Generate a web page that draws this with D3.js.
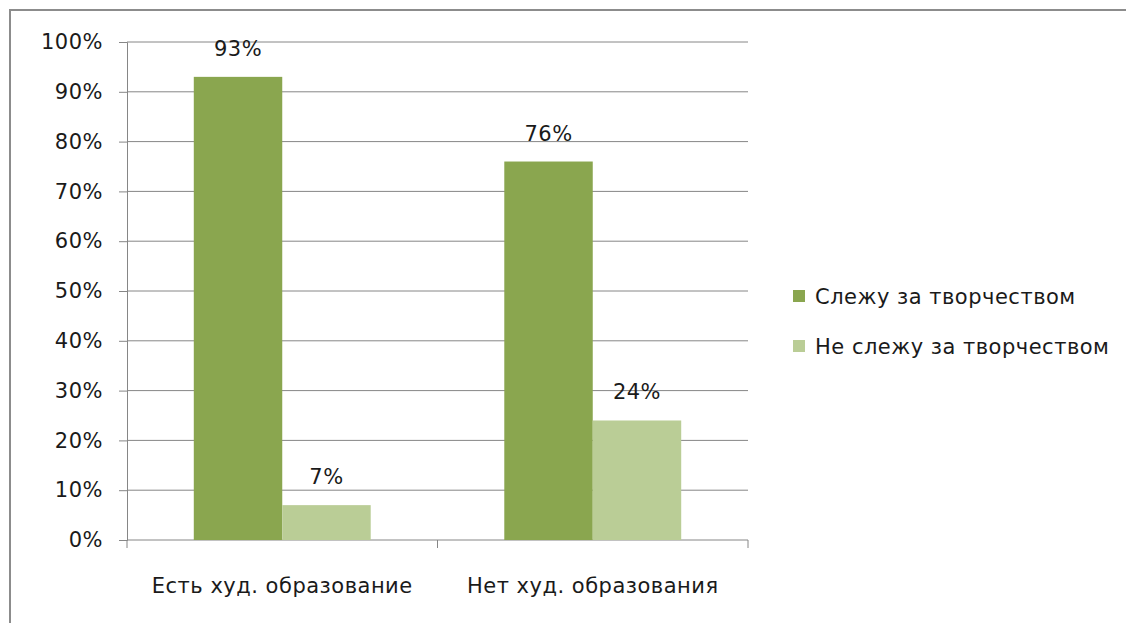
<!DOCTYPE html>
<html>
<head>
<meta charset="utf-8">
<script src="https://cdn.jsdelivr.net/npm/d3@7"></script>
<style>
  body { margin: 0; background: #fff; overflow: hidden; }
  svg { display: block; }
  text { font-family: "DejaVu Sans", sans-serif; fill: #1a1a1a; letter-spacing: 0.5px; }
</style>
</head>
<body>
<div id="chart"></div>
<script>
// chart data
const categories = ["Есть худ. образование", "Нет худ. образования"];
const seriesNames = ["Слежу за творчеством", "Не слежу за творчеством"];
const follow = [93, 76];
const notFollow = [7, 24];
const yTicks = [0, 10, 20, 30, 40, 50, 60, 70, 80, 90, 100];
const colors = ["#8aa64f", "#bacd96"];

const width = 1126;
const height = 623;
const margin = {left: 127, right: 378, top: 42, bottom: 83};
const fontSize = "21px";

const svg = d3.select("#chart")
  .append("svg")
  .attr("width", width)
  .attr("height", height);

// outer frame (runs off the right/bottom edge)
svg.append("rect")
  .attr("x", 10).attr("y", 10)
  .attr("width", width + 40).attr("height", height + 40)
  .attr("fill", "none")
  .attr("stroke", "#8c8c8c")
  .attr("stroke-width", 2);

const yScale = d3.scaleLinear()
  .domain([0, 100])
  .range([height - margin.bottom, margin.top]);

const xScale = d3.scaleBand()
  .domain(categories)
  .range([margin.left, width - margin.right])
  .padding(0);

const xInner = d3.scaleBand()
  .domain(d3.range(seriesNames.length))
  .range([0, xScale.bandwidth()])
  .paddingInner(0)
  .paddingOuter(0.755);

// gridlines + y axis
const yAxis = svg.append("g")
  .attr("transform", `translate(${margin.left},0)`)
  .call(d3.axisLeft(yScale)
    .tickValues(yTicks)
    .tickSize(8)
    .tickPadding(16)
    .tickFormat(d => d + "%"));
yAxis.select(".domain").attr("stroke", "#868686");
yAxis.selectAll(".tick line").attr("stroke", "#868686");
yAxis.selectAll(".tick text")
  .attr("font-size", fontSize)
  .attr("font-family", "DejaVu Sans")
  .attr("fill", "#1a1a1a");

svg.append("g")
  .selectAll("line")
  .data(yTicks.filter(d => d > 0))
  .join("line")
    .attr("x1", margin.left)
    .attr("x2", width - margin.right)
    .attr("y1", d => yScale(d))
    .attr("y2", d => yScale(d))
    .attr("stroke", "#868686")
    .attr("stroke-width", 1);

// x axis
const xEdges = categories.map(c => xScale(c)).concat([xScale.range()[1]]);
const xAxis = svg.append("g")
  .attr("transform", `translate(0,${height - margin.bottom})`);
xAxis.append("line")
  .attr("x1", margin.left).attr("x2", width - margin.right)
  .attr("stroke", "#868686");
xAxis.selectAll(".tk")
  .data(xEdges)
  .join("line")
    .attr("class", "tk")
    .attr("x1", d => d).attr("x2", d => d)
    .attr("y1", 0).attr("y2", 8)
    .attr("stroke", "#868686");
xAxis.selectAll(".lbl")
  .data(categories)
  .join("text")
    .attr("class", "lbl")
    .attr("x", d => xScale(d) + xScale.bandwidth() / 2)
    .attr("y", 53)
    .attr("text-anchor", "middle")
    .attr("font-size", fontSize)
    .text(d => d);

// bars
const seriesData = [follow, notFollow];
const barData = [];
categories.forEach((c, i) => {
  seriesData.forEach((s, j) => barData.push({cat: c, series: j, value: s[i]}));
});

svg.append("g")
  .selectAll("rect")
  .data(barData)
  .join("rect")
    .attr("x", d => xScale(d.cat) + xInner(d.series))
    .attr("y", d => yScale(d.value))
    .attr("width", xInner.bandwidth())
    .attr("height", d => yScale(0) - yScale(d.value))
    .attr("fill", d => colors[d.series]);

// value labels
svg.append("g")
  .selectAll("text")
  .data(barData)
  .join("text")
    .attr("x", d => xScale(d.cat) + xInner(d.series) + xInner.bandwidth() / 2)
    .attr("y", d => yScale(d.value) - 21)
    .attr("text-anchor", "middle")
    .attr("font-size", fontSize)
    .text(d => d.value + "%");

// legend
const legend = svg.append("g")
  .attr("transform", "translate(793,290)");
legend.selectAll("rect")
  .data(seriesNames)
  .join("rect")
    .attr("x", 0)
    .attr("y", (d, i) => i * 50)
    .attr("width", 12).attr("height", 12)
    .attr("fill", (d, i) => colors[i]);
legend.selectAll("text")
  .data(seriesNames)
  .join("text")
    .attr("x", 22)
    .attr("y", (d, i) => i * 50 + 14)
    .attr("font-size", fontSize)
    .text(d => d);
</script>
</body>
</html>
